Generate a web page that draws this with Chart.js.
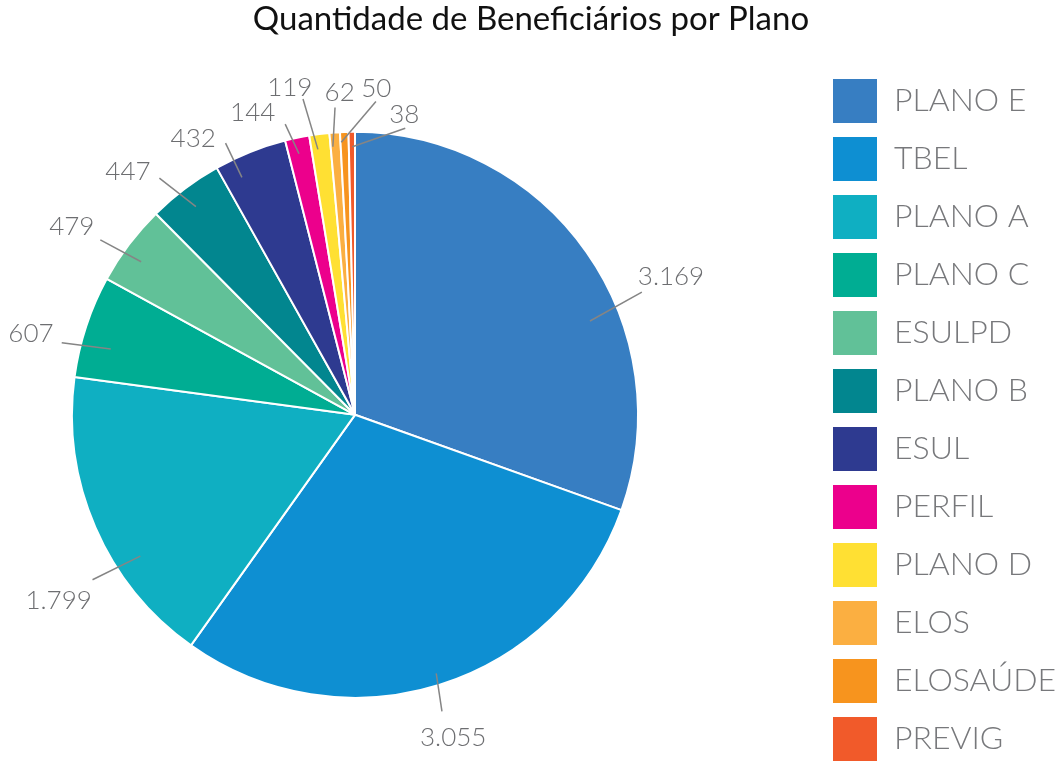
<!DOCTYPE html>
<html lang="pt-BR">
<head>
<meta charset="utf-8">
<title>Quantidade de Beneficiários por Plano</title>
<script src="https://cdn.jsdelivr.net/npm/chart.js@4.4.1/dist/chart.umd.min.js"></script>
<style>
    html, body { margin: 0; padding: 0; background: #ffffff; }
    canvas { display: block; }
</style>
</head>
<body>
<canvas id="chart" width="1062" height="762"></canvas>
<script>
const planos = ['PLANO E', 'TBEL', 'PLANO A', 'PLANO C', 'ESULPD', 'PLANO B', 'ESUL', 'PERFIL', 'PLANO D', 'ELOS', 'ELOSAÚDE', 'PREVIG'];
const beneficiarios = [3169, 3055, 1799, 607, 479, 447, 432, 144, 119, 62, 50, 38];
const cores = ['#377ec2', '#0e8fd2', '#0fafc2', '#00ad93', '#61c198', '#02868f', '#2e3a90', '#ec008c', '#ffe033', '#fbaf41', '#f7941e', '#f15a2a'];

// where each value label sits, relative to its slice:
// [line start angle (deg from slice middle), line start radius (px from edge),
//  line end angle, line end radius, text angle, text radius]
const posRotulos = [
    [13.4, -30, 12, 29, 11.5, 62],
    [0, -12, 1.1, 26, 0.5, 54],
    [-9.9, -26, -8.7, 27, -8.7, 67],
    [-3.1, -30, -4.4, 19, -4.2, 51],
    [-1.4, -20, -2.5, 26, -3.4, 57],
    [-0.4, -21, -2.6, 24, -6, 50],
    [-3.7, -20, -3.7, 18, -8.6, 37],
    [-0.3, -16, -1.7, 16, -6.9, 36],
    [-0.7, -15, -2.1, 37, -4, 51],
    [-0.6, -14, 0.4, 25, 1.4, 40],
    [-0.7, -10, 6, 31, 5.9, 44],
    [0.1, -15, 10.6, 8, 10, 21]
];

const formatar = v => String(v).replace(/\B(?=(\d{3})+(?!\d))/g, '.');
const rad = d => d * Math.PI / 180;

// move the pie left of the legend, like the original layout
const deslocaPizza = {
    id: 'deslocaPizza',
    afterLayout: chart => {
        const area = chart.chartArea;
        area.left = 0;
        area.right = chart.legend.left - 110;
        area.width = area.right - area.left;
    }
};

const rotulos = {
    id: 'rotulos',
    afterDatasetsDraw: chart => {
        const ctx = chart.ctx;
        const meta = chart.getDatasetMeta(0);
        ctx.save();
        ctx.font = '300 26px Lato';
        ctx.textAlign = 'center';
        ctx.textBaseline = 'middle';
        meta.data.forEach((arc, i) => {
            const p = arc.getProps(['x', 'y', 'startAngle', 'endAngle', 'outerRadius'], true);
            const meio = (p.startAngle + p.endAngle) / 2;
            const pos = posRotulos[i];
            const ponto = (da, dr) => [
                p.x + Math.cos(meio + rad(da)) * (p.outerRadius + dr),
                p.y + Math.sin(meio + rad(da)) * (p.outerRadius + dr)
            ];
            const a = ponto(pos[0], pos[1]);
            const b = ponto(pos[2], pos[3]);
            const t = ponto(pos[4], pos[5]);
            ctx.strokeStyle = '#858585';
            ctx.lineWidth = 1.5;
            ctx.beginPath();
            ctx.moveTo(a[0], a[1]);
            ctx.lineTo(b[0], b[1]);
            ctx.stroke();
            ctx.fillStyle = '#6d6e71';
            ctx.fillText(formatar(beneficiarios[i]), t[0], t[1]);
        });
        ctx.restore();
    }
};

new Chart(document.getElementById('chart'), {
    type: 'pie',
    data: {
        labels: planos,
        datasets: [{
            data: beneficiarios,
            backgroundColor: cores,
            borderColor: '#ffffff',
            borderWidth: 2,
            clip: false
        }]
    },
    options: {
        responsive: false,
        animation: false,
        devicePixelRatio: 1,
        radius: 283,
        layout: {
            padding: { bottom: -12 }
        },
        plugins: {
            title: {
                display: true,
                text: 'Quantidade de Beneficiários por Plano',
                color: '#111111',
                font: { family: 'Lato', size: 33, weight: 'normal' },
                padding: { top: 0, bottom: 28 }
            },
            legend: {
                position: 'right',
                align: 'end',
                maxWidth: 242,
                labels: {
                    boxWidth: 46,
                    boxHeight: 46,
                    padding: 12,
                    color: '#77787b',
                    font: { family: 'Lato', size: 32, weight: 300 }
                }
            },
            tooltip: { enabled: false }
        }
    },
    plugins: [deslocaPizza, rotulos]
});
</script>
</body>
</html>
